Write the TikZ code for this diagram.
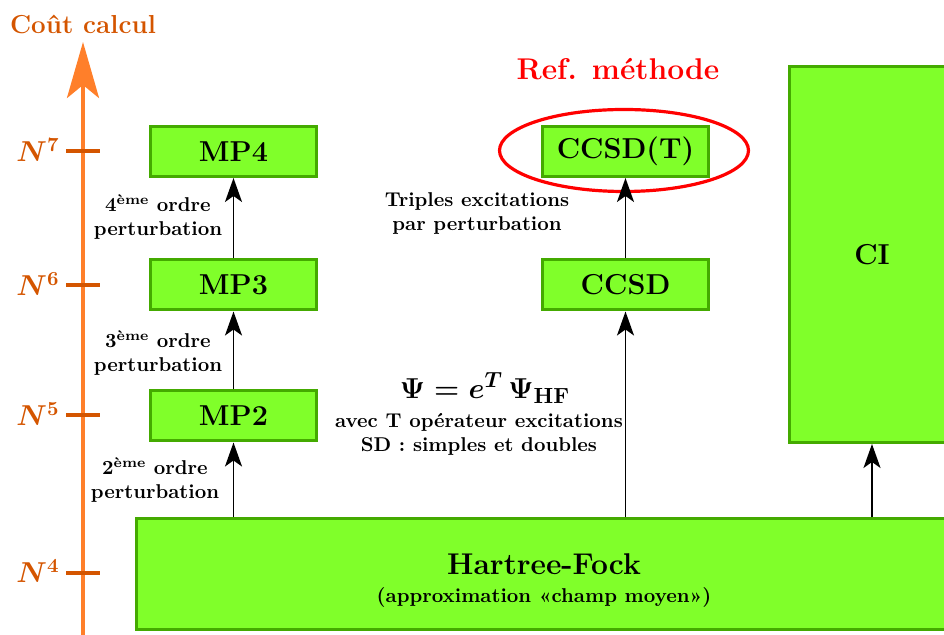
\documentclass[tikz,border=0pt]{standalone}
\usetikzlibrary{arrows.meta}
\definecolor{boxfill}{HTML}{80FF2A}
\definecolor{boxline}{HTML}{44AA00}
\definecolor{axisline}{HTML}{FF7F2A}
\definecolor{axisdark}{HTML}{D45500}
\begin{document}
\begin{tikzpicture}[x=0.5pt,y=-0.5pt,
  box/.style={draw=boxline, fill=boxfill, line width=1.5pt, minimum width=83pt,
    minimum height=25pt, font=\Large\bfseries, inner sep=0pt},
  uparrow/.style={-{Stealth[length=12pt,width=8.5pt,inset=3pt]}, line width=0.9pt},
  lbl/.style={align=center, font=\bfseries\normalsize, inner sep=0pt},
  axisstyle/.style={draw=axisline, line width=2pt, -{Stealth[length=28pt,width=16pt,inset=6.5pt]}},
  tickmark/.style={draw=axisdark, line width=1.8pt},
  ticklbl/.style={anchor=base east, text=axisdark, font=\Large\boldmath, inner sep=0pt},
  refring/.style={draw=red, line width=1.6pt},
  eqstyle/.style={font=\fontsize{15.3}{18}\selectfont\boldmath, inner sep=0pt}
]
\useasboundingbox (0,0) rectangle (944,635);

% axis
\coordinate (axbot) at (83,640);
\coordinate (axtop) at (83,42);
\draw[axisstyle] (axbot) -- (axtop);
\node[text=axisdark, font=\fontsize{13}{15}\selectfont\bfseries] (title) at (83,24) {Coût calcul};

\draw[tickmark] (66,151) -- (100,151);
\draw[tickmark] (66,285) -- (100,285);
\draw[tickmark] (66,415) -- (100,415);
\draw[tickmark] (66,573) -- (100,573);
\node[ticklbl] (n7) at (60,162) {$N^{7}$};
\node[ticklbl] (n6) at (60,296) {$N^{6}$};
\node[ticklbl] (n5) at (60,426) {$N^{5}$};
\node[ticklbl] (n4) at (60,583) {$N^{4}$};

% boxes
\node[box] (mp4) at (233.5,151.5) {MP4};
\node[box] (mp3) at (233.5,285) {MP3};
\node[box] (mp2) at (233.5,416) {MP2};
\node[box] (ccsdt) at (625.5,151.5) {CCSD(T)};
\node[box] (ccsd) at (625.5,285) {CCSD};
\node[box, minimum height=188pt] (ci) at (872,254.5) {CI};
\node[box, font=\bfseries, minimum width=407.5pt, minimum height=55.5pt, align=center] (hf) at (544,574.5)
  {\rule{0pt}{16pt}{\fontsize{15}{18}\selectfont Hartree-Fock}\\[2pt]{\normalsize (approximation «champ moyen»)}};

% ring
\draw[refring] (624,150.5) ellipse [x radius=124.5, y radius=41];
\node[text=red, font=\fontsize{15}{18}\selectfont\bfseries] (ref) at (618,69) {Ref. méthode};

% arrows
\draw[uparrow] (hf.north -| mp2) -- (mp2.south);
\draw[uparrow] (mp2) -- (mp3);
\draw[uparrow] (mp3) -- (mp4);
\draw[uparrow] (hf.north -| ccsd) -- (ccsd.south);
\draw[uparrow] (ccsd) -- (ccsdt);
\draw[uparrow] (hf.north -| ci) -- (ci.south);

% labels
\node[lbl] (l4) at (158,217) {4\textsuperscript{ème} ordre\\perturbation};
\node[lbl] (l3) at (158,353) {3\textsuperscript{ème} ordre\\perturbation};
\node[lbl] (l2) at (155,480) {2\textsuperscript{ème} ordre\\perturbation};
\node[lbl] (trip) at (477,214) {Triples excitations\\par perturbation};
\node[eqstyle] (eqn) at (485,388) {$\Psi = e^{T}\,\Psi_{\mathbf{HF}}$};
\node[lbl] (avec) at (479,434) {avec T opérateur excitations\\SD : simples et doubles};
\end{tikzpicture}
\end{document}
